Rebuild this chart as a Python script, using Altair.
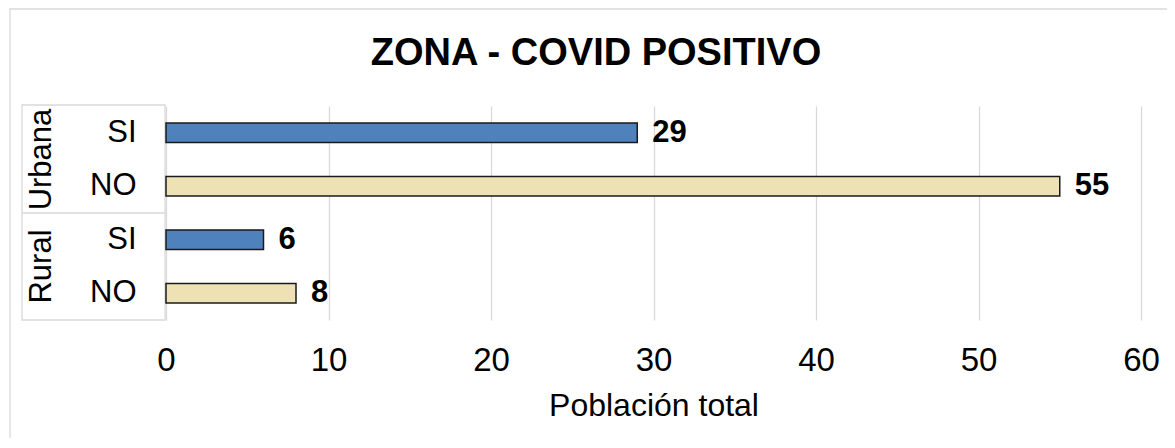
import altair as alt
import pandas as pd

zones = ["Urbana", "Urbana", "Rural", "Rural"]
answers = ["SI", "NO", "SI", "NO"]
counts = [29, 55, 6, 8]
group_order = ["Urbana", "Rural"]
x_ticks = [0, 10, 20, 30, 40, 50, 60]
title_text = ["ZONA - COVID POSITIVO"]

FONT = "Liberation Sans"

df = pd.DataFrame({"zone": zones, "answer": answers, "count": counts})
df["key"] = df["zone"] + "|" + df["answer"]
key_order = list(df["key"])
gdf = pd.DataFrame({"zone": group_order})
one = pd.DataFrame({"a": [0]})
tdf = pd.DataFrame({"title": title_text})

W, H = 975, 214

yaxis = alt.Axis(
    title=None,
    labelExpr="split(datum.label, '|')[1]",
    ticks=False,
    domain=False,
    grid=False,
    labelPadding=30,
    labelFontSize=31,
    labelFont=FONT,
    labelColor="black",
)
yenc = alt.Y(
    "key:N",
    sort=key_order,
    scale=alt.Scale(paddingInner=0.64, paddingOuter=0.32),
    axis=yaxis,
)
xenc = alt.X(
    "count:Q",
    scale=alt.Scale(domain=[0, 60], nice=False),
    axis=alt.Axis(
        values=x_ticks,
        title="Población total",
        titleFont=FONT,
        titleFontSize=32,
        titleFontWeight="normal",
        titleColor="black",
        titlePadding=13,
        labelFont=FONT,
        labelFontSize=33,
        labelColor="black",
        labelPadding=24,
        labelFlush=False,
        ticks=False,
        domain=False,
        grid=True,
        gridColor="#d9d9d9",
        gridWidth=1.3,
    ),
)

bars = alt.Chart(df).mark_bar(stroke="#1a1a1a", strokeWidth=1.5).encode(
    y=yenc,
    x=xenc,
    color=alt.Color(
        "answer:N",
        scale=alt.Scale(domain=["SI", "NO"], range=["#4f81bd", "#eee2b4"]),
        legend=None,
    ),
)

labels = alt.Chart(df).mark_text(
    align="left", baseline="middle", dx=15, font=FONT, fontSize=31,
    fontWeight="bold", color="black",
).encode(
    y=yenc,
    x=xenc,
    text=alt.Text("count:Q"),
)

box = alt.Chart(one).mark_rect(fill=None, stroke="#d9d9d9", strokeWidth=1.3).encode(
    x=alt.value(-144), x2=alt.value(-1), y=alt.value(-1), y2=alt.value(H)
)
divider = alt.Chart(one).mark_rule(color="#d9d9d9", strokeWidth=1.3).encode(
    x=alt.value(-144), x2=alt.value(-1), y=alt.value(H / 2)
)
frame = alt.Chart(one).mark_rect(fill=None, stroke="#d9d9d9", strokeWidth=1.3).encode(
    x=alt.value(-156), x2=alt.value(1100), y=alt.value(-97), y2=alt.value(400)
)
title = alt.Chart(tdf).mark_text(
    align="center", baseline="alphabetic", font=FONT, fontSize=38,
    fontWeight="bold", color="black",
).encode(
    x=alt.value(430), y=alt.value(-41), text="title:N"
)

groups = alt.Chart(gdf).mark_text(
    angle=270, align="center", baseline="middle", font=FONT, fontSize=31,
    color="black",
).encode(
    y=alt.Y("zone:N", sort=group_order, axis=None,
            scale=alt.Scale(type="point", padding=0.5)),
    x=alt.value(-124),
    text="zone:N",
)

main = alt.layer(frame, box, divider, bars, labels, title)

chart = alt.layer(main, groups).resolve_scale(y="independent").properties(
    width=W,
    height=H,
    autosize=alt.AutoSizeParams(type="none"),
    padding={"left": 158, "top": 98, "right": 26, "bottom": 118},
).configure_view(stroke=None)

chart.save("out.html", embed_options={"renderer": "svg", "actions": False})
